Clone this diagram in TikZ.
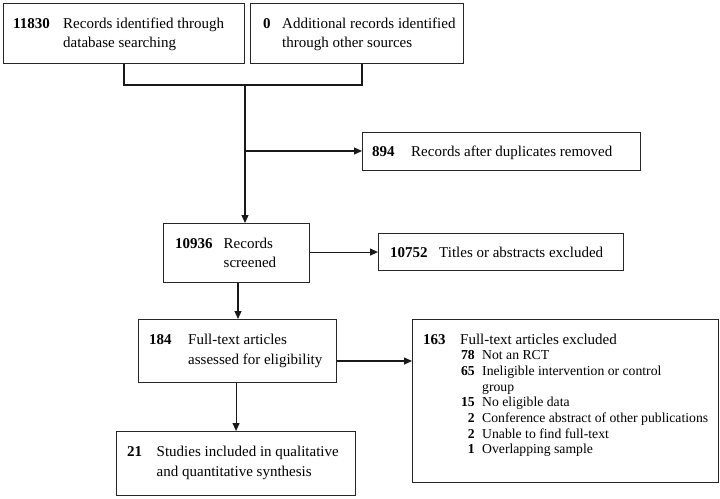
\documentclass[tikz,border=0pt]{standalone}
\usepackage{fontspec}
\setmainfont{Liberation Serif}
\usetikzlibrary{arrows.meta}
\begin{document}
\begin{tikzpicture}[x=1pt,y=-1pt,
  every node/.style={font=\fontsize{15}{18}\selectfont},
  box/.style={draw=black!85, line width=1.1pt, inner sep=0pt, anchor=north west},
  num/.style={font=\fontsize{15}{18}\selectfont\bfseries, anchor=base west, inner sep=0pt},
  numr/.style={font=\fontsize{13.7}{16}\selectfont\bfseries, anchor=base east, inner sep=0pt},
  txt/.style={anchor=base west, inner sep=0pt},
  stxt/.style={font=\fontsize{13.7}{16}\selectfont, anchor=base west, inner sep=0pt},
  link/.style={draw=black!90, line width=1.1pt},
  arr/.style={link, -{Triangle[length=8pt,width=7pt]}}]
\useasboundingbox (0,0) rectangle (720,498);
\fill[white] (0,0) rectangle (720,498);

% boxes
\node[box, minimum width=241pt, minimum height=60pt] (A) at (3,3) {};
\node[box, minimum width=213pt, minimum height=60pt] (B) at (250,3) {};
\node[box, minimum width=278pt, minimum height=38pt] (dup) at (362,132) {};
\node[box, minimum width=146pt, minimum height=59pt] (scr) at (163,223) {};
\node[box, minimum width=245pt, minimum height=37pt] (tit) at (378,233) {};
\node[box, minimum width=198pt, minimum height=63pt] (ft) at (138,319) {};
\node[box, minimum width=306pt, minimum height=163pt] (exc) at (412,319) {};
\node[box, minimum width=239pt, minimum height=64pt] (inc) at (116,431) {};

% texts
\node[num] (An) at (13,28) {11830};
\node[txt] (At1) at (63,28) {Records identified through};
\node[txt] (At2) at (63,47) {database searching};

\node[num] (Bn) at (263,28) {0};
\node[txt] (Bt1) at (282,28) {Additional records identified};
\node[txt] (Bt2) at (282,47) {through other sources};

\node[num] (dn) at (372,156) {894};
\node[txt] (dt) at (411,156) {Records after duplicates removed};

\node[num] (sn) at (175,248) {10936};
\node[txt] (st1) at (223.5,248) {Records};
\node[txt] (st2) at (223.5,267.5) {screened};

\node[num] (tn) at (390,257) {10752};
\node[txt] (tt) at (439,257) {Titles or abstracts excluded};

\node[num] (fn) at (149,344) {184};
\node[txt] (ft1) at (188,344) {Full-text articles};
\node[txt] (ft2) at (188,364) {assessed for eligibility};

\node[num] (en) at (423,344) {163};
\node[txt] (et) at (460,344) {Full-text articles excluded};
\node[numr] (e1n) at (475,359.7) {78};
\node[stxt] (e1t) at (482,359.7) {Not an RCT};
\node[numr] (e2n) at (475,375.4) {65};
\node[stxt] (e2t) at (482,375.4) {Ineligible intervention or control};
\node[stxt] (e2u) at (482,391.1) {group};
\node[numr] (e3n) at (475,406.8) {15};
\node[stxt] (e3t) at (482,406.8) {No eligible data};
\node[numr] (e4n) at (475,422.5) {2};
\node[stxt] (e4t) at (482,422.5) {Conference abstract of other publications};
\node[numr] (e5n) at (475,438.2) {2};
\node[stxt] (e5t) at (482,438.2) {Unable to find full-text};
\node[numr] (e6n) at (475,453.9) {1};
\node[stxt] (e6t) at (482,453.9) {Overlapping sample};

\node[num] (in) at (127,456) {21};
\node[txt] (it1) at (156.5,456) {Studies included in qualitative};
\node[txt] (it2) at (156.5,476) {and quantitative synthesis};

% connectors
\coordinate (jL) at (124,85);
\coordinate (jR) at (362,85);
\coordinate (jM) at (245,85);
\coordinate (jD) at (245,151);
\draw[link] (A.south -| jL) -- (jL) -- (jR) -- (B.south -| jR);
\draw[arr] (jM) -- (scr.north -| jM);
\draw[arr] (jD) -- (dup.west |- jD);
\draw[arr] (scr.east |- tit.west) -- (tit.west);
\draw[arr] (scr.south -| 238,0) -- (ft.north -| 238,0);
\coordinate (fr) at (336,361);
\draw[arr] (ft.east |- fr) -- (exc.west |- fr);
\draw[arr] (ft.south -| inc.north) -- (inc.north);
\end{tikzpicture}
\end{document}
